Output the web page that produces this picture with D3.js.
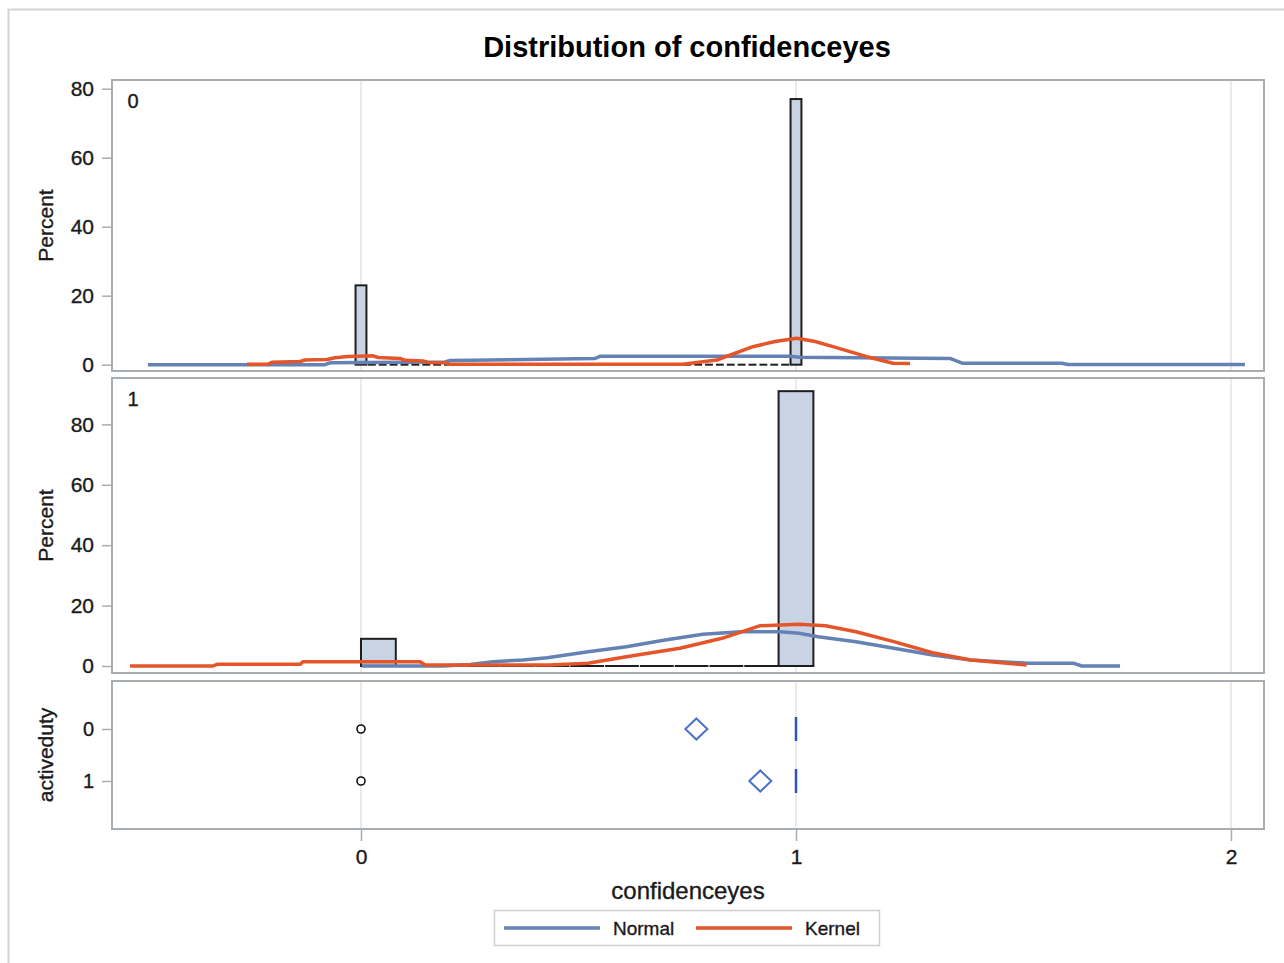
<!DOCTYPE html>
<html>
<head>
<meta charset="utf-8">
<script src="https://cdn.jsdelivr.net/npm/d3@7"></script>
<style>
  body { margin: 0; background: #fff; }
  svg text { font-family: "Liberation Sans", Arial, sans-serif; fill: #1a1a1a; stroke: #1a1a1a; stroke-width: 0.35px; }
</style>
</head>
<body>
<svg id="chart" width="1284" height="963"></svg>
<script>
'use strict';

var groups = ['0', '1'];
var xTicks = [0, 1, 2];
var yTicks = [0, 20, 40, 60, 80];

// histogram bins (percent), activeduty = 0 : width 0.025 centered on 0 .. 1
var binStart0 = -0.0125, binWidth0 = 0.025;
var pct0 = [23, 0, 0, 0, 0, 0, 0, 0, 0, 0, 0, 0, 0, 0, 0, 0, 0, 0, 0, 0,
  0, 0, 0, 0, 0, 0, 0, 0, 0, 0, 0, 0, 0, 0, 0, 0, 0, 0, 0, 0, 77];

// activeduty = 1 : width 0.08 starting at 0
var binStart1 = 0, binWidth1 = 0.08;
var pct1 = [9, 0, 0, 0, 0, 0, 0, 0, 0, 0, 0, 0, 91];

// fitted curves [confidenceyes, percent]
var normal0 = [[-0.490, 0], [-0.083, 0], [-0.071, 0.55], [0.193, 0.78], [0.205, 1.2],
  [0.538, 1.8], [0.549, 2.43], [0.986, 2.43], [1.009, 2.17], [1.354, 1.8],
  [1.382, 0.43], [1.611, 0.4], [1.625, 0.03], [2.032, 0.03]];
var kernel0 = [[-0.262, 0.12], [-0.214, 0.12], [-0.205, 0.70], [-0.140, 0.93],
  [-0.129, 1.36], [-0.078, 1.51], [-0.060, 2.03], [-0.030, 2.38], [0.028, 2.58],
  [0.039, 2.09], [0.090, 1.80], [0.101, 1.28], [0.143, 1.07], [0.154, 0.64],
  [0.193, 0.55], [0.205, 0.14], [0.740, 0.14], [0.818, 1.36], [0.901, 5.22],
  [0.952, 6.72], [1.002, 7.65], [1.044, 6.72], [1.085, 5.22], [1.163, 2.32],
  [1.223, 0.41], [1.262, 0.35]];
var normal1 = [[0.002, 0], [0.189, 0], [0.251, 0.5], [0.303, 1.42], [0.372, 1.99],
  [0.428, 2.75], [0.522, 4.74], [0.610, 6.39], [0.699, 8.61], [0.786, 10.5],
  [0.874, 11.36], [0.963, 11.36], [1.007, 10.83], [1.051, 9.70], [1.138, 8.05],
  [1.225, 5.86], [1.314, 3.64], [1.402, 1.99], [1.533, 0.89], [1.639, 0.89],
  [1.657, 0], [1.745, 0]];
var kernel1 = [[-0.531, 0], [-0.340, 0], [-0.331, 0.56], [-0.140, 0.56], [-0.133, 1.42],
  [0.136, 1.42], [0.147, 0.33], [0.434, 0.33], [0.522, 0.89], [0.610, 3.08],
  [0.733, 5.86], [0.830, 9.17], [0.918, 13.34], [1.007, 13.8], [1.068, 13.34],
  [1.138, 11.36], [1.225, 8.05], [1.314, 4.40], [1.402, 1.99], [1.530, 0.33]];

// box plot summary per activeduty group
var means = [0.771, 0.918];
var medians = [1, 1];
var outliers = [0, 0];

var BLUE = '#6482b4', ORANGE = '#e5552a', FRAME = '#a8adb2', GRID = '#e4e4e4';

var svg = d3.select('#chart');
var left = 112, right = 1264;

var x = d3.scaleLinear().domain([-0.5724, 2.0759]).range([left, right]);

// outer frame
svg.append('path')
  .attr('d', 'M8.5,963V9.5H1284')
  .attr('fill', 'none')
  .attr('stroke', '#d4d4d4')
  .attr('stroke-width', 2);

svg.append('text')
  .attr('x', 687).attr('y', 57)
  .attr('text-anchor', 'middle')
  .attr('font-size', 29).attr('font-weight', 'bold')
  .style('fill', '#000').style('stroke', 'none')
  .text('Distribution of confidenceyes');

var panels = [
  { top: 80, bottom: 371, domain: [-1.83, 82.52], label: groups[0], gap: 1.5,
    start: binStart0, width: binWidth0, pct: pct0, normal: normal0, kernel: kernel0 },
  { top: 378, bottom: 673, domain: [-2.32, 95.36], label: groups[1], gap: 0.5,
    start: binStart1, width: binWidth1, pct: pct1, normal: normal1, kernel: kernel1 }
];

panels.forEach(drawHistogram);

function drawHistogram(p) {
  var y = d3.scaleLinear().domain(p.domain).range([p.bottom, p.top]);
  var g = svg.append('g');

  g.selectAll('.grid')
    .data(xTicks)
    .enter().append('line')
    .attr('x1', x).attr('x2', x)
    .attr('y1', p.top).attr('y2', p.bottom)
    .attr('stroke', GRID).attr('stroke-width', 1.5);

  var bins = p.pct.map(function(v, i) {
    return { x0: p.start + i * p.width, x1: p.start + (i + 1) * p.width, v: v };
  });

  g.selectAll('.bar')
    .data(bins.filter(function(d) { return d.v > 0; }))
    .enter().append('rect')
    .attr('x', function(d) { return x(d.x0); })
    .attr('width', function(d) { return x(d.x1) - x(d.x0); })
    .attr('y', function(d) { return y(d.v); })
    .attr('height', function(d) { return y(0) - y(d.v); })
    .attr('fill', '#c8d4e4')
    .attr('stroke', '#1e1e1e')
    .attr('stroke-width', 2);

  g.selectAll('.empty')
    .data(bins.filter(function(d) { return d.v === 0; }))
    .enter().append('line')
    .attr('x1', function(d) { return x(d.x0) + p.gap; })
    .attr('x2', function(d) { return x(d.x1) - p.gap; })
    .attr('y1', y(0)).attr('y2', y(0))
    .attr('stroke', '#1e1e1e')
    .attr('stroke-width', 2);

  var line = d3.line()
    .x(function(d) { return x(d[0]); })
    .y(function(d) { return y(d[1]); });

  g.append('path').datum(p.normal)
    .attr('d', line)
    .attr('fill', 'none').attr('stroke', BLUE).attr('stroke-width', 3.5)
    .attr('stroke-linejoin', 'round');
  g.append('path').datum(p.kernel)
    .attr('d', line)
    .attr('fill', 'none').attr('stroke', ORANGE).attr('stroke-width', 3.5)
    .attr('stroke-linejoin', 'round');

  g.append('rect')
    .attr('x', left).attr('y', p.top)
    .attr('width', right - left).attr('height', p.bottom - p.top)
    .attr('fill', 'none').attr('stroke', FRAME).attr('stroke-width', 2);

  g.append('text')
    .attr('x', 133).attr('y', p.top + 28)
    .attr('text-anchor', 'middle')
    .attr('font-size', 20)
    .text(p.label);

  var axis = g.append('g')
    .attr('transform', 'translate(' + left + ',0)')
    .call(d3.axisLeft(y).tickValues(yTicks).tickSize(10).tickPadding(8));
  styleAxis(axis, 21);

  g.append('text')
    .attr('transform', 'translate(53,' + (p.top + p.bottom) / 2 + ') rotate(-90)')
    .attr('text-anchor', 'middle')
    .attr('font-size', 21)
    .text('Percent');
}

// box plot panel
var boxTop = 681, boxBottom = 829;
var yBox = d3.scalePoint().domain(groups).range([boxTop, boxBottom]).padding(0.923);
var gb = svg.append('g');

gb.selectAll('.grid')
  .data(xTicks)
  .enter().append('line')
  .attr('x1', x).attr('x2', x)
  .attr('y1', boxTop).attr('y2', boxBottom)
  .attr('stroke', GRID).attr('stroke-width', 1.5);

gb.selectAll('.median')
  .data(groups)
  .enter().append('line')
  .attr('x1', function(d, i) { return x(medians[i]); })
  .attr('x2', function(d, i) { return x(medians[i]); })
  .attr('y1', function(d) { return yBox(d) - 12; })
  .attr('y2', function(d) { return yBox(d) + 12; })
  .attr('stroke', '#2f55b8').attr('stroke-width', 2.5);

gb.selectAll('.mean')
  .data(groups)
  .enter().append('path')
  .attr('d', 'M0,-10.5L11,0L0,10.5L-11,0Z')
  .attr('transform', function(d, i) { return 'translate(' + x(means[i]) + ',' + yBox(d) + ')'; })
  .attr('fill', 'none').attr('stroke', '#4a72c9').attr('stroke-width', 2);

gb.selectAll('.outlier')
  .data(groups)
  .enter().append('circle')
  .attr('cx', function(d, i) { return x(outliers[i]); })
  .attr('cy', function(d) { return yBox(d); })
  .attr('r', 4)
  .attr('fill', '#fff').attr('stroke', '#111').attr('stroke-width', 1.6);

gb.append('rect')
  .attr('x', left).attr('y', boxTop)
  .attr('width', right - left).attr('height', boxBottom - boxTop)
  .attr('fill', 'none').attr('stroke', FRAME).attr('stroke-width', 2);

var boxAxis = gb.append('g')
  .attr('transform', 'translate(' + left + ',0)')
  .call(d3.axisLeft(yBox).tickSize(10).tickPadding(8));
styleAxis(boxAxis, 20);

gb.append('text')
  .attr('transform', 'translate(53,' + (boxTop + boxBottom) / 2 + ') rotate(-90)')
  .attr('text-anchor', 'middle')
  .attr('font-size', 21)
  .text('activeduty');

var xAxis = svg.append('g')
  .attr('transform', 'translate(0,' + boxBottom + ')')
  .call(d3.axisBottom(x).tickValues(xTicks).tickFormat(d3.format('d')).tickSize(12).tickPadding(8));
styleAxis(xAxis, 21);

svg.append('text')
  .attr('x', 688).attr('y', 899)
  .attr('text-anchor', 'middle')
  .attr('font-size', 24)
  .text('confidenceyes');

// legend
var legend = svg.append('g');
legend.append('rect')
  .attr('x', 494.5).attr('y', 910.5).attr('width', 385).attr('height', 35)
  .attr('fill', '#fff').attr('stroke', '#cfcfcf').attr('stroke-width', 1.5);

var legendItems = [
  { name: 'Normal', color: BLUE, x: 504 },
  { name: 'Kernel', color: ORANGE, x: 696 }
];
legendItems.forEach(function(d) {
  legend.append('line')
    .attr('x1', d.x).attr('x2', d.x + 96)
    .attr('y1', 928).attr('y2', 928)
    .attr('stroke', d.color).attr('stroke-width', 3.5);
  legend.append('text')
    .attr('x', d.x + 109).attr('y', 934.5)
    .attr('font-size', 19)
    .text(d.name);
});

function styleAxis(sel, size) {
  sel.select('.domain').remove();
  sel.selectAll('.tick line').attr('stroke', FRAME).attr('stroke-width', 1.5);
  sel.selectAll('.tick text')
    .attr('font-size', size)
    .style('font-family', '"Liberation Sans", Arial, sans-serif')
    .style('fill', '#1a1a1a').style('stroke', '#1a1a1a').style('stroke-width', '0.35px');
}
</script>
</body>
</html>
